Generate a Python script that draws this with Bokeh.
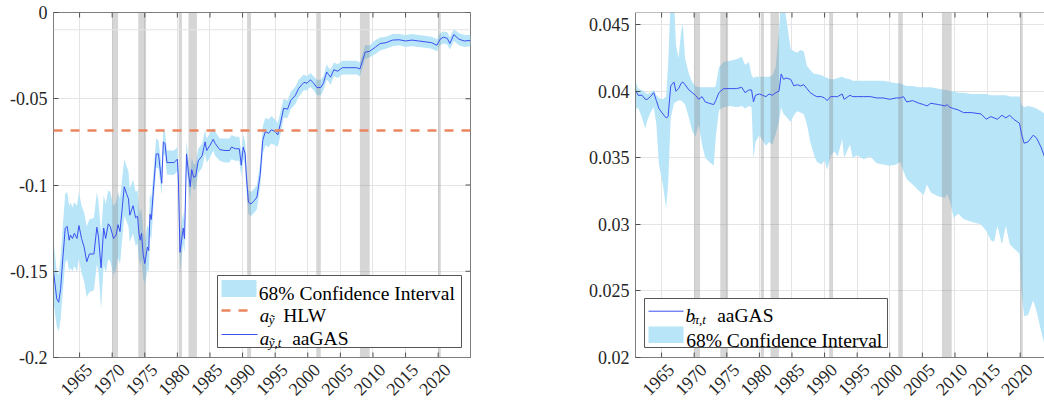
import math
from bokeh.plotting import figure
from bokeh.layouts import row
from bokeh.models import (Range1d, FixedTicker, Span, BoxAnnotation, LinearAxis,
                          Label, Arrow, ColumnDataSource)
from bokeh.embed import file_html
from bokeh.resources import INLINE

# ---------------- data ----------------
years_ticks = [1965, 1970, 1975, 1980, 1985, 1990, 1995, 2000, 2005, 2010, 2015, 2020]
year_labels = [str(y) for y in years_ticks]

rec_start = [1970.0, 1974.0, 1980.2, 1981.7, 1990.7, 2001.3, 2008.0, 2020.0]
rec_end = [1970.9, 1975.2, 1980.7, 1983.0, 1991.3, 2002.0, 2009.5, 2020.4]

hlw_a = -0.0684

# left panel: a_{y,t} aaGAS with 68% band
a_t = [1961.00, 1961.50, 1961.80, 1962.10, 1962.40, 1962.80, 1963.10, 1963.40, 1963.60, 1963.90,
       1964.20, 1964.60, 1964.90, 1965.30, 1965.70, 1966.10, 1966.50, 1967.20, 1967.65, 1967.90,
       1968.30, 1968.70, 1969.00, 1969.40, 1969.70, 1970.20, 1970.60, 1970.90, 1971.20, 1971.85,
       1972.20, 1972.50, 1972.70, 1973.20, 1973.60, 1973.90, 1974.10, 1974.30, 1974.50, 1974.75,
       1975.00, 1975.40, 1975.60, 1975.80, 1976.00, 1976.30, 1976.75, 1977.10, 1977.60, 1977.85,
       1978.10, 1978.40, 1979.50, 1980.00, 1980.15, 1980.40, 1980.90, 1981.10, 1981.40, 1981.70,
       1981.97, 1982.20, 1982.50, 1982.80, 1983.20, 1983.80, 1984.25, 1984.50, 1985.00, 1985.50,
       1985.80, 1986.50, 1987.30, 1988.00, 1988.30, 1988.90, 1989.50, 1989.80, 1990.10, 1990.40,
       1990.60, 1990.90, 1991.30, 1991.80, 1992.20, 1992.70, 1993.10, 1993.50, 1994.00, 1994.40,
       1995.00, 1995.40, 1995.80, 1996.30, 1996.90, 1997.40, 1998.10, 1998.60, 1999.40, 1999.90,
       2000.40, 2000.90, 2001.40, 2002.00, 2002.40, 2002.90, 2003.20, 2003.50, 2004.00, 2004.60,
       2005.30, 2006.50, 2007.50, 2008.00, 2008.40, 2008.80, 2009.50, 2010.40, 2011.10, 2012.00,
       2013.00, 2014.00, 2015.00, 2016.00, 2017.00, 2018.00, 2019.00, 2019.80, 2020.30, 2020.80,
       2021.40, 2021.80, 2022.40, 2023.20, 2024.00, 2024.95]
a_val = [-0.150, -0.166, -0.168, -0.160, -0.144, -0.125, -0.124, -0.132, -0.129, -0.131,
         -0.128, -0.131, -0.1235, -0.131, -0.136, -0.1445, -0.140, -0.140, -0.1245, -0.130,
         -0.148, -0.125, -0.131, -0.1225, -0.124, -0.131, -0.129, -0.123, -0.127, -0.101,
         -0.105, -0.108, -0.1175, -0.112, -0.119, -0.118, -0.128, -0.132, -0.128, -0.140,
         -0.1455, -0.136, -0.138, -0.117, -0.120, -0.104, -0.082, -0.082, -0.099, -0.075,
         -0.076, -0.087, -0.087, -0.085, -0.096, -0.139, -0.125, -0.131, -0.082, -0.093,
         -0.101, -0.091, -0.0955, -0.095, -0.086, -0.083, -0.075, -0.080, -0.077, -0.0735,
         -0.076, -0.0795, -0.080, -0.080, -0.078, -0.079, -0.079, -0.0885, -0.078, -0.082,
         -0.096, -0.110, -0.111, -0.109, -0.107, -0.094, -0.074, -0.069, -0.070, -0.068,
         -0.069, -0.071, -0.0645, -0.0555, -0.056, -0.051, -0.048, -0.044, -0.0405, -0.041,
         -0.039, -0.041, -0.0435, -0.0435, -0.041, -0.0345, -0.036, -0.0375, -0.0332, -0.034,
         -0.032, -0.032, -0.032, -0.0327, -0.028, -0.023, -0.0225, -0.020, -0.018, -0.0175,
         -0.016, -0.0158, -0.0165, -0.016, -0.0165, -0.017, -0.0175, -0.019, -0.0155, -0.0143,
         -0.015, -0.018, -0.0128, -0.0155, -0.0165, -0.0162]
a_lo = [-0.168, -0.182, -0.185, -0.178, -0.163, -0.145, -0.143, -0.150, -0.148, -0.150,
        -0.147, -0.150, -0.143, -0.151, -0.156, -0.165, -0.162, -0.161, -0.146, -0.150,
        -0.172, -0.146, -0.151, -0.143, -0.144, -0.152, -0.149, -0.142, -0.146, -0.118,
        -0.121, -0.124, -0.133, -0.128, -0.135, -0.134, -0.143, -0.147, -0.143, -0.154,
        -0.158, -0.149, -0.151, -0.129, -0.132, -0.114, -0.090, -0.090, -0.106, -0.082,
        -0.083, -0.094, -0.094, -0.092, -0.104, -0.150, -0.134, -0.139, -0.090, -0.101,
        -0.109, -0.098, -0.103, -0.102, -0.093, -0.090, -0.082, -0.087, -0.084, -0.080,
        -0.083, -0.086, -0.087, -0.087, -0.085, -0.086, -0.086, -0.095, -0.085, -0.089,
        -0.103, -0.117, -0.118, -0.116, -0.114, -0.101, -0.082, -0.077, -0.078, -0.076,
        -0.077, -0.078, -0.071, -0.061, -0.061, -0.056, -0.053, -0.049, -0.045, -0.045,
        -0.043, -0.045, -0.048, -0.048, -0.045, -0.039, -0.040, -0.042, -0.037, -0.038,
        -0.036, -0.036, -0.036, -0.037, -0.032, -0.027, -0.026, -0.024, -0.022, -0.021,
        -0.0195, -0.019, -0.020, -0.0195, -0.020, -0.0205, -0.021, -0.0225, -0.019, -0.018,
        -0.0185, -0.0215, -0.0165, -0.019, -0.020, -0.0195]
a_hi = [-0.132, -0.150, -0.152, -0.142, -0.125, -0.105, -0.104, -0.112, -0.110, -0.113,
        -0.110, -0.112, -0.104, -0.112, -0.116, -0.124, -0.120, -0.119, -0.104, -0.110,
        -0.128, -0.106, -0.111, -0.103, -0.104, -0.112, -0.110, -0.104, -0.108, -0.085,
        -0.089, -0.092, -0.102, -0.097, -0.104, -0.103, -0.113, -0.117, -0.113, -0.126,
        -0.133, -0.123, -0.125, -0.105, -0.108, -0.094, -0.073, -0.074, -0.090, -0.067,
        -0.069, -0.080, -0.080, -0.078, -0.088, -0.128, -0.116, -0.123, -0.074, -0.085,
        -0.093, -0.084, -0.088, -0.088, -0.079, -0.076, -0.068, -0.073, -0.070, -0.067,
        -0.069, -0.073, -0.073, -0.073, -0.071, -0.072, -0.072, -0.081, -0.071, -0.075,
        -0.089, -0.103, -0.104, -0.102, -0.100, -0.087, -0.066, -0.061, -0.062, -0.060,
        -0.062, -0.064, -0.058, -0.050, -0.051, -0.046, -0.043, -0.039, -0.036, -0.037,
        -0.035, -0.037, -0.039, -0.039, -0.037, -0.030, -0.032, -0.033, -0.029, -0.030,
        -0.028, -0.028, -0.028, -0.029, -0.024, -0.019, -0.019, -0.016, -0.0145, -0.014,
        -0.0125, -0.0125, -0.013, -0.0125, -0.013, -0.0135, -0.014, -0.0155, -0.012, -0.011,
        -0.0115, -0.0145, -0.0095, -0.012, -0.013, -0.013]

# right panel: b_{pi,t} aaGAS with 68% band
b_t = [1961.00, 1961.40, 1962.00, 1962.50, 1962.80, 1963.30, 1963.80, 1964.20, 1964.60, 1965.20,
       1965.70, 1966.00, 1966.40, 1966.90, 1967.20, 1967.60, 1968.00, 1968.25, 1968.60, 1969.20,
       1969.70, 1970.20, 1970.70, 1971.20, 1971.70, 1972.30, 1973.00, 1973.30, 1973.80, 1974.50,
       1975.50, 1976.50, 1977.30, 1977.80, 1978.40, 1978.80, 1979.10, 1979.40, 1980.00, 1980.50,
       1981.00, 1981.50, 1982.00, 1982.50, 1983.00, 1983.35, 1983.70, 1984.10, 1984.80, 1985.30,
       1985.80, 1986.30, 1986.80, 1987.30, 1987.80, 1988.40, 1988.80, 1989.50, 1990.00, 1990.40,
       1990.90, 1991.50, 1992.00, 1992.70, 1993.00, 1993.90, 1994.30, 1995.00, 1996.00, 1997.00,
       1998.00, 1999.00, 2000.00, 2001.00, 2001.60, 2002.10, 2002.60, 2003.50, 2004.50, 2005.20,
       2005.70, 2006.30, 2007.50, 2008.50, 2008.80, 2009.20, 2009.80, 2010.50, 2011.30, 2012.50,
       2014.00, 2014.80, 2015.50, 2016.00, 2016.50, 2017.20, 2017.80, 2018.40, 2019.00, 2019.90,
       2020.20, 2020.60, 2021.20, 2022.00, 2022.50, 2023.20, 2023.80, 2024.50]
b_val = [0.0401, 0.0397, 0.0397, 0.0394, 0.0394, 0.0396, 0.0399, 0.0393, 0.0387, 0.0383,
         0.0380, 0.0381, 0.0404, 0.0407, 0.0400, 0.0402, 0.0406, 0.0407, 0.0405, 0.0401,
         0.0399, 0.0397, 0.0394, 0.0396, 0.0392, 0.0391, 0.0390, 0.0393, 0.0399, 0.0402,
         0.0402, 0.0402, 0.0403, 0.0399, 0.0401, 0.0401, 0.0392, 0.0397, 0.0398, 0.0397,
         0.0396, 0.0398, 0.0397, 0.0399, 0.0400, 0.0413, 0.0409, 0.0410, 0.0409, 0.0404,
         0.0405, 0.0404, 0.0405, 0.0402, 0.0399, 0.0397, 0.0396, 0.0396, 0.0395, 0.0393,
         0.0396, 0.0396, 0.0396, 0.0398, 0.0394, 0.0397, 0.0396, 0.0396, 0.0396, 0.0396,
         0.0395, 0.0395, 0.0394, 0.0395, 0.0395, 0.0396, 0.0392, 0.0393, 0.0391, 0.0390,
         0.0389, 0.0391, 0.0390, 0.0389, 0.0390, 0.0388, 0.0387, 0.0386, 0.0384, 0.0384,
         0.0383, 0.0379, 0.0381, 0.0380, 0.0379, 0.0382, 0.0380, 0.0382, 0.0379, 0.0376,
         0.0368, 0.0361, 0.0362, 0.0367, 0.0365, 0.0358, 0.0350, 0.0345]
b_lo = [0.0386, 0.0388, 0.0380, 0.0372, 0.0378, 0.0384, 0.0388, 0.0375, 0.0345, 0.0330,
        0.0312, 0.0330, 0.0380, 0.0391, 0.0392, 0.0393, 0.0393, 0.0392, 0.0390, 0.0380,
        0.0370, 0.0366, 0.0375, 0.0360, 0.0350, 0.0347, 0.0344, 0.0365, 0.0386, 0.0388,
        0.0389, 0.0388, 0.0389, 0.0387, 0.0389, 0.0388, 0.0349, 0.0362, 0.0367, 0.0363,
        0.0359, 0.0362, 0.0360, 0.0368, 0.0377, 0.0388, 0.0383, 0.0381, 0.0377, 0.0382,
        0.0385, 0.0384, 0.0383, 0.0375, 0.0362, 0.0352, 0.0347, 0.0345, 0.0348, 0.0341,
        0.0351, 0.0355, 0.0351, 0.0364, 0.0350, 0.0360, 0.0350, 0.0352, 0.0349, 0.0351,
        0.0346, 0.0345, 0.0344, 0.0345, 0.0347, 0.0340, 0.0334, 0.0330, 0.0325, 0.0322,
        0.0330, 0.0324, 0.0321, 0.0320, 0.0323, 0.0318, 0.0305, 0.0308, 0.0304, 0.0302,
        0.0300, 0.0295, 0.0288, 0.0287, 0.0299, 0.0285, 0.0299, 0.0285, 0.0282, 0.0278,
        0.0250, 0.0231, 0.0232, 0.0243, 0.0235, 0.0220, 0.0208, 0.0200]
b_hi = [0.0408, 0.0402, 0.0401, 0.0399, 0.0398, 0.0399, 0.0401, 0.0397, 0.0395, 0.0394,
        0.0396, 0.0420, 0.0470, 0.0470, 0.0435, 0.0425, 0.0445, 0.0451, 0.0425, 0.0413,
        0.0407, 0.0404, 0.0403, 0.0403, 0.0403, 0.0403, 0.0403, 0.0404, 0.0418, 0.0422,
        0.0423, 0.0424, 0.0426, 0.0420, 0.0422, 0.0412, 0.0410, 0.0411, 0.0411, 0.0411,
        0.0411, 0.0411, 0.0412, 0.0418, 0.0445, 0.0470, 0.0470, 0.0455, 0.0432, 0.0430,
        0.0429, 0.0431, 0.0430, 0.0419, 0.0416, 0.0413, 0.0413, 0.0412, 0.0411, 0.0410,
        0.0409, 0.0409, 0.0410, 0.0411, 0.0410, 0.0409, 0.0408, 0.0408, 0.0408, 0.0408,
        0.0408, 0.0408, 0.0407, 0.0406, 0.0406, 0.0405, 0.0404, 0.0404, 0.0403, 0.0403,
        0.0403, 0.0403, 0.0402, 0.0401, 0.0401, 0.0400, 0.0400, 0.0399, 0.0399, 0.0398,
        0.0398, 0.0398, 0.0397, 0.0397, 0.0397, 0.0397, 0.0397, 0.0396, 0.0396, 0.0396,
        0.0390, 0.0388, 0.0389, 0.0388, 0.0387, 0.0385, 0.0383, 0.0380]

left_yticks = [-0.2, -0.15, -0.1, -0.05, 0.0]
left_ylabels = ["-0.2", "-0.15", "-0.1", "-0.05", "0"]
right_yticks = [0.02, 0.025, 0.03, 0.035, 0.04, 0.045]
right_ylabels = ["0.02", "0.025", "0.03", "0.035", "0.04", "0.045"]

# ---------------- style ----------------
FONT = "'Liberation Serif', 'Times New Roman', serif"
CI = "#b8e5f8"
LINE = "#3c50f0"
HLW = "#ea8560"
REC = "#808080"
GRID = "#e4e4e4"
AXIS = "#7d7d7d"
TICK = "#505050"
TXT = "#262626"
LABEL_SHIFT = 1.4   # years: moves rotated year labels right, as in the original


def style_axis(ax):
    ax.axis_line_color = AXIS
    ax.axis_line_width = 1
    ax.major_tick_line_color = TICK
    ax.major_tick_in = 5
    ax.major_tick_out = 0
    ax.minor_tick_line_color = None
    ax.major_label_text_font = FONT
    ax.major_label_text_font_size = "18px"
    ax.major_label_text_color = TXT


def make_fig(width, x0, x1, y0, y1, yticks, ylabels, border_left, border_right, outline=True):
    p = figure(width=width, height=407, x_range=Range1d(x0, x1), y_range=Range1d(y0, y1),
               output_backend="svg", toolbar_location=None, x_axis_location=None,
               min_border_left=border_left, min_border_right=border_right,
               min_border_top=12, min_border_bottom=50)
    p.extra_x_ranges = {"lab": Range1d(x0 - LABEL_SHIFT, x1 - LABEL_SHIFT)}
    p.background_fill_color = "white"
    p.border_fill_color = "white"
    p.outline_line_color = AXIS if outline else None
    p.outline_line_width = 1
    xt = FixedTicker(ticks=years_ticks)
    yt = FixedTicker(ticks=yticks)
    xax = LinearAxis(x_range_name="lab", ticker=FixedTicker(ticks=years_ticks))
    style_axis(xax)
    xax.major_tick_line_color = None
    xax.major_label_overrides = {y: s for y, s in zip(years_ticks, year_labels)}
    xax.major_label_orientation = math.pi / 4
    xax.major_label_standoff = 9
    p.add_layout(xax, "below")
    p.yaxis.ticker = yt
    p.yaxis.major_label_overrides = {v: s for v, s in zip(yticks, ylabels)}
    p.yaxis.major_label_standoff = 6
    style_axis(p.yaxis[0])
    p.xgrid.ticker = xt
    p.ygrid.ticker = yt
    p.xgrid.grid_line_color = GRID
    p.ygrid.grid_line_color = GRID
    return p


def edge_ticks(p, x0, x1, y0, y1, yticks, right=True):
    n = len(years_ticks)
    p.scatter(x=years_ticks, y=[y0] * n, marker="dash", size=10, angle=math.pi / 2,
              line_color=TICK, line_width=1)
    p.scatter(x=years_ticks, y=[y1] * n, marker="dash", size=10, angle=math.pi / 2,
              line_color=TICK, line_width=1)
    if right:
        p.scatter(x=[x1] * len(yticks), y=yticks, marker="dash", size=10,
                  line_color=TICK, line_width=1)


def lbl(p, x, y, text, size="19px", style="normal"):
    p.add_layout(Label(x=x, y=y, x_units="screen", y_units="screen", text=text,
                       text_font=FONT, text_font_size=size, text_font_style=style,
                       text_color="black", text_baseline="alphabetic", text_align="left"))


def sbox(p, l, r, b, t, fill, line=None):
    p.add_layout(BoxAnnotation(left=l, right=r, bottom=b, top=t,
                               left_units="screen", right_units="screen",
                               top_units="screen", bottom_units="screen",
                               fill_color=fill, fill_alpha=1, line_color=line,
                               line_width=1, line_alpha=1))


def sline(p, x0, x1, y, color, width, dash="solid"):
    p.add_layout(Arrow(end=None, x_start=x0, y_start=y, x_end=x1, y_end=y,
                       start_units="screen", end_units="screen",
                       line_color=color, line_width=width, line_dash=dash))


# ---------------- left panel ----------------
xl0, xl1 = 1961.0, 2024.96
yl0, yl1 = -0.2, 0.0
p1 = make_fig(520, xl0, xl1, yl0, yl1, left_yticks, left_ylabels, 53, 50)
p1.add_layout(Span(location=-0.01, dimension="width", line_color=GRID, line_width=1))
src_a = ColumnDataSource(dict(t=a_t, v=a_val, lo=a_lo, hi=a_hi))
p1.varea(x="t", y1="lo", y2="hi", source=src_a, fill_color=CI, fill_alpha=1)
p1.quad(left=rec_start, right=rec_end, bottom=[yl0] * len(rec_start), top=[yl1] * len(rec_start),
        fill_color=REC, fill_alpha=0.32, line_color=None)
p1.add_layout(Span(location=hlw_a, dimension="width", line_color=HLW, line_width=2.6,
                   line_dash="9 8"))
p1.line(x="t", y="v", source=src_a, line_color=LINE, line_width=1)
edge_ticks(p1, xl0, xl1, yl0, yl1, left_yticks)

# legend (screen units: relative to the frame, y from its bottom)
sbox(p1, 164, 408, 10, 82, "white", "#555555")
sbox(p1, 168, 203, 60.5, 77.5, CI)
sline(p1, 168, 197, 47, HLW, 2.6, "9 8")
sline(p1, 168, 204, 23, LINE, 1)
lbl(p1, 205.3, 64.3, "68% Confidence Interval", size="19.5px")
lbl(p1, 206.3, 42, "a", style="italic")
lbl(p1, 215.3, 38, "ỹ", size="13px", style="italic")
lbl(p1, 229.7, 42, "HLW", size="19.5px")
lbl(p1, 206.3, 19, "a", style="italic")
lbl(p1, 215.3, 15, "ỹ,t", size="13px", style="italic")
lbl(p1, 238.7, 19, "aaGAS", size="19.5px")

# ---------------- right panel ----------------
xr0, xr1 = 1961.0, 2023.73
yr0, yr1 = 0.02, 0.04592
p2 = make_fig(524, xr0, xr1, yr0, yr1, right_yticks, right_ylabels, 115, 0, outline=False)
src_b = ColumnDataSource(dict(t=b_t, v=b_val, lo=b_lo, hi=b_hi))
p2.varea(x="t", y1="lo", y2="hi", source=src_b, fill_color=CI, fill_alpha=1)
p2.quad(left=rec_start, right=rec_end, bottom=[yr0] * len(rec_start), top=[yr1] * len(rec_start),
        fill_color=REC, fill_alpha=0.32, line_color=None)
p2.line(x="t", y="v", source=src_b, line_color=LINE, line_width=1)
p2.add_layout(Span(location=yr1, dimension="width", line_color=AXIS, line_width=1))
edge_ticks(p2, xr0, xr1, yr0, yr1, right_yticks, right=False)

sbox(p2, 9, 252, 10, 59, "white", "#555555")
sline(p2, 13, 48, 46.3, LINE, 1)
sbox(p2, 13, 48, 14.5, 31, CI)
lbl(p2, 50, 42, "b", style="italic")
lbl(p2, 57, 38, "π,t", size="13px", style="italic")
lbl(p2, 81.7, 42, "aaGAS", size="19.5px")
lbl(p2, 50.7, 17, "68% Confidence Interval", size="19.5px")

layout = row(p1, p2)
open("out.html", "w").write(file_html(layout, INLINE))
